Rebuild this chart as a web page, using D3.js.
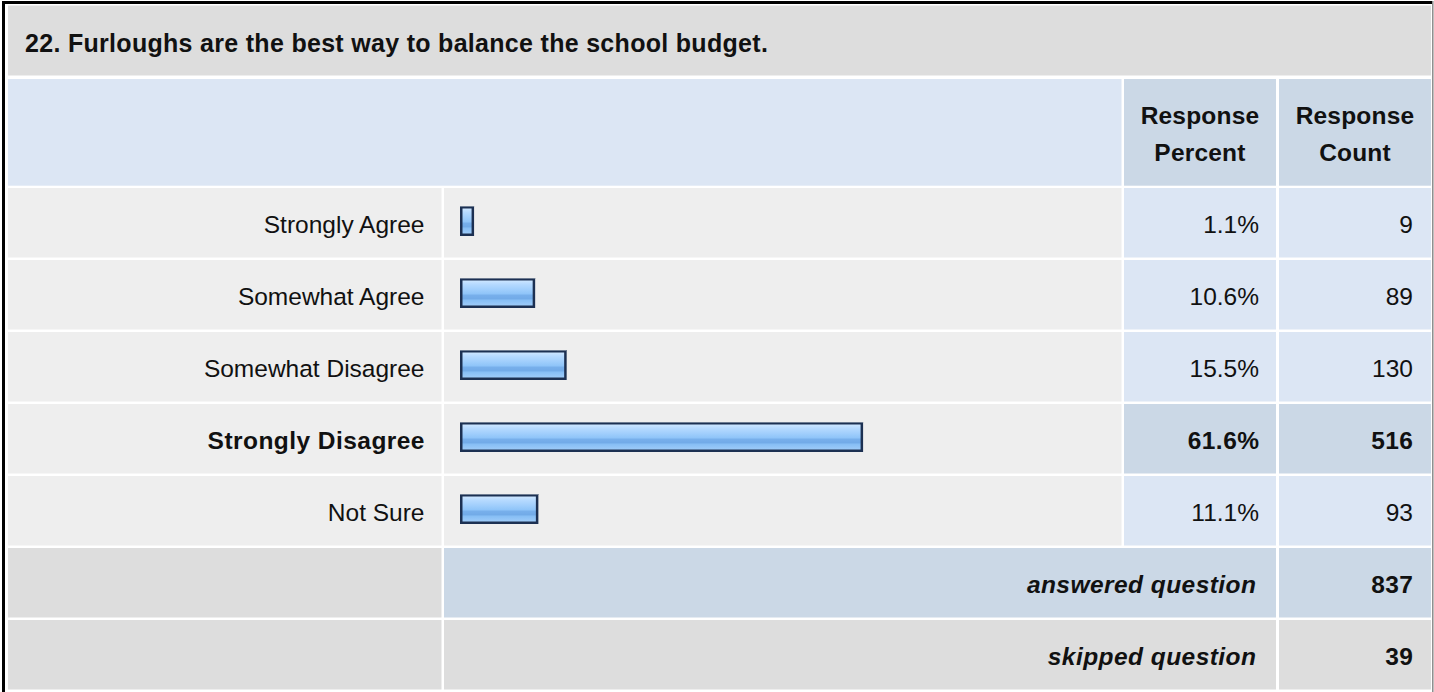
<!DOCTYPE html>
<html>
<head>
<meta charset="utf-8">
<script src="https://cdn.jsdelivr.net/npm/d3@7"></script>
<style>
  html, body { margin: 0; padding: 0; background: #ffffff; }
  svg { display: block; }
  text { font-family: "Liberation Sans", Arial, Helvetica, sans-serif; fill: #111; }
</style>
</head>
<body>
<svg id="chart" width="1434" height="692"></svg>
<script>
// ---- data ----
const title = "22. Furloughs are the best way to balance the school budget.";
const categories = ["Strongly Agree", "Somewhat Agree", "Somewhat Disagree", "Strongly Disagree", "Not Sure"];
const percents = [1.1, 10.6, 15.5, 61.6, 11.1];
const counts = [9, 89, 130, 516, 93];
const headerPercent = ["Response", "Percent"];
const headerCount = ["Response", "Count"];
const summaryLabels = ["answered question", "skipped question"];
const summaryValues = [837, 39];

// ---- layout ----
const W = 1434, H = 692;
const svg = d3.select("#chart");
const FS = 24.5;
const BOLD_LS = 0.45;

const C = { grayDark: "#dddddd", grayLight: "#eeeeee", blueLight: "#dce6f4", blueDark: "#cbd8e6" };

// columns
const col = {
  label: [8, 441.5],
  bar: [444, 1121.5],
  pct: [1124, 1276],
  cnt: [1279, 1431]
};

// rows (band scale over data rows + 2 summary rows)
const rowKeys = categories.concat(summaryLabels);
const step = 72, pad = 2.5 / 72;
const y = d3.scaleBand()
  .domain(rowKeys)
  .range([188, 188 + step * (rowKeys.length - pad)])
  .paddingInner(pad)
  .paddingOuter(0);

// bar length scale (percent -> pixels)
const x = d3.scaleLinear().domain([0, 100]).range([0, 643]);
const barMin = 7; // border allowance
const barX0 = 460, barH = 30;

const maxIdx = percents.indexOf(d3.max(percents));

// gradient
const defs = svg.append("defs");
const grad = defs.append("linearGradient").attr("id", "barGrad")
  .attr("x1", 0).attr("y1", 0).attr("x2", 0).attr("y2", 1);
[[0, "#cde6ff"], [0.15, "#b6daff"], [0.35, "#a2cffc"], [0.52, "#90c5f9"],
 [0.6, "#77afeb"], [0.72, "#72abe8"], [0.8, "#88bff5"], [1, "#9dcbf8"]]
  .forEach(([o, c]) => grad.append("stop").attr("offset", o).attr("stop-color", c));

// outer border
svg.append("path")
  .attr("d", "M3.5,692 L3.5,2.5 L1432,2.5")
  .attr("fill", "none").attr("stroke", "#000").attr("stroke-width", 3);
svg.append("line")
  .attr("x1", 1432.8).attr("x2", 1432.8).attr("y1", 1).attr("y2", 692)
  .attr("stroke", "#8a8a8a").attr("stroke-width", 1.5);

// title row
svg.append("rect").attr("x", 8).attr("y", 5.5).attr("width", 1423).attr("height", 70)
  .attr("fill", C.grayDark);
svg.append("text").attr("x", 25).attr("y", 51.5)
  .attr("font-size", 25).attr("font-weight", "bold").attr("letter-spacing", 0.3)
  .attr("fill", "#000").text(title);

// header row
const hTop = 79, hH = 106.7;
svg.append("rect").attr("x", col.label[0]).attr("y", hTop)
  .attr("width", col.bar[1] - col.label[0]).attr("height", hH).attr("fill", C.blueLight);
[[col.pct, headerPercent], [col.cnt, headerCount]].forEach(([c, lines]) => {
  svg.append("rect").attr("x", c[0]).attr("y", hTop).attr("width", c[1] - c[0]).attr("height", hH)
    .attr("fill", C.blueDark);
  const cx = (c[0] + c[1]) / 2;
  lines.forEach((t, i) => {
    svg.append("text").attr("x", cx).attr("y", 124 + i * 36.7)
      .attr("text-anchor", "middle").attr("font-size", FS).attr("font-weight", "bold")
      .attr("letter-spacing", 0.2).attr("fill", "#000").text(t);
  });
});

// data rows
const rows = svg.append("g");
categories.forEach((cat, i) => {
  const top = y(cat), h = y.bandwidth();
  const isMax = i === maxIdx;
  const g = rows.append("g");
  g.append("rect").attr("x", col.label[0]).attr("y", top).attr("width", col.label[1] - col.label[0]).attr("height", h).attr("fill", C.grayLight);
  g.append("rect").attr("x", col.bar[0]).attr("y", top).attr("width", col.bar[1] - col.bar[0]).attr("height", h).attr("fill", C.grayLight);
  g.append("rect").attr("x", col.pct[0]).attr("y", top).attr("width", col.pct[1] - col.pct[0]).attr("height", h).attr("fill", isMax ? C.blueDark : C.blueLight);
  g.append("rect").attr("x", col.cnt[0]).attr("y", top).attr("width", col.cnt[1] - col.cnt[0]).attr("height", h).attr("fill", isMax ? C.blueDark : C.blueLight);

  const base = top + 44.5;
  const fw = isMax ? "bold" : "normal";
  const ls = isMax ? BOLD_LS : 0;
  const sh = isMax ? -BOLD_LS : 0;
  g.append("text").attr("x", col.label[1] - 17 - sh).attr("y", base).attr("text-anchor", "end")
    .attr("font-size", FS).attr("font-weight", fw).attr("letter-spacing", ls).text(cat);
  g.append("text").attr("x", col.pct[1] - 17 - sh).attr("y", base).attr("text-anchor", "end")
    .attr("font-size", FS).attr("font-weight", fw).attr("letter-spacing", ls).text(percents[i].toFixed(1) + "%");
  g.append("text").attr("x", col.cnt[1] - 18 - sh).attr("y", base).attr("text-anchor", "end")
    .attr("font-size", FS).attr("font-weight", fw).attr("letter-spacing", ls).text(counts[i]);

  // bar
  const by = top + 18;
  const bw = x(percents[i]) + barMin;
  g.append("rect").attr("x", barX0).attr("y", by).attr("width", bw).attr("height", barH)
    .attr("fill", "#1c3052");
  g.append("rect").attr("x", barX0).attr("y", by).attr("width", bw).attr("height", 1)
    .attr("fill", "#6f7d92");
  g.append("rect").attr("x", barX0 + 2.5).attr("y", by + 2.5).attr("width", Math.max(0, bw - 5)).attr("height", barH - 5)
    .attr("fill", "url(#barGrad)");
});

// summary rows
summaryLabels.forEach((lab, j) => {
  const top = y(lab), h = y.bandwidth();
  const mid = j === 0 ? C.blueDark : C.grayDark;
  const cnt = j === 0 ? C.blueDark : C.grayDark;
  svg.append("rect").attr("x", col.label[0]).attr("y", top).attr("width", col.label[1] - col.label[0]).attr("height", h).attr("fill", C.grayDark);
  svg.append("rect").attr("x", col.bar[0]).attr("y", top).attr("width", col.pct[1] - col.bar[0]).attr("height", h).attr("fill", mid);
  svg.append("rect").attr("x", col.cnt[0]).attr("y", top).attr("width", col.cnt[1] - col.cnt[0]).attr("height", h).attr("fill", cnt);
  const base = top + 45;
  svg.append("text").attr("x", col.pct[1] - 20 + BOLD_LS).attr("y", base).attr("text-anchor", "end")
    .attr("font-size", FS).attr("font-weight", "bold").attr("font-style", "italic")
    .attr("letter-spacing", BOLD_LS).attr("fill", "#000").text(lab);
  svg.append("text").attr("x", col.cnt[1] - 18 + BOLD_LS).attr("y", base).attr("text-anchor", "end")
    .attr("font-size", FS).attr("font-weight", "bold").attr("letter-spacing", BOLD_LS)
    .attr("fill", "#000").text(summaryValues[j]);
});
</script>
</body>
</html>
